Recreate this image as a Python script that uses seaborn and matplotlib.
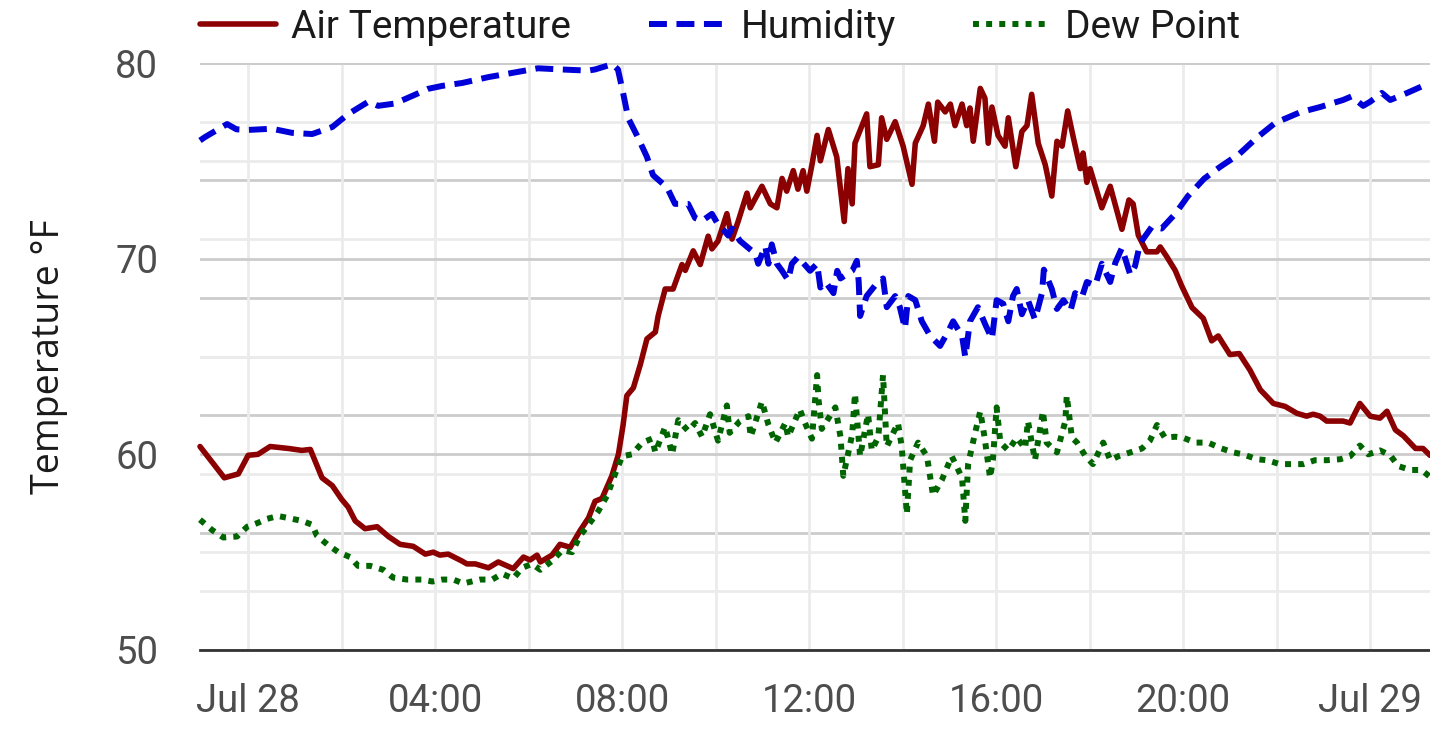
import pandas as pd
import seaborn as sns
import matplotlib.pyplot as plt
import matplotlib.dates as mdates
from matplotlib.ticker import MultipleLocator, FixedLocator, FuncFormatter

# hours after midnight of Jul 28
temp_hours = [-1.03, -0.51, -0.21, 0.00, 0.21, 0.47, 0.86, 1.15, 1.33, 1.58,
              1.80, 2.00, 2.14, 2.29, 2.50, 2.76, 3.00, 3.25, 3.53, 3.79,
              3.96, 4.10, 4.28, 4.57, 4.68, 4.86, 5.14, 5.35, 5.67, 5.89,
              6.03, 6.18, 6.25, 6.50, 6.67, 6.89, 7.10, 7.28, 7.42, 7.57,
              7.78, 7.92, 8.02, 8.10, 8.24, 8.39, 8.53, 8.71, 8.77, 8.92,
              9.09, 9.28, 9.35, 9.52, 9.67, 9.84, 9.92, 10.05, 10.24, 10.35,
              10.48, 10.67, 10.74, 10.99, 11.17, 11.31, 11.42, 11.52, 11.66, 11.76,
              11.87, 11.95, 12.06, 12.17, 12.24, 12.41, 12.59, 12.75, 12.83, 12.92,
              12.98, 13.23, 13.30, 13.48, 13.55, 13.66, 13.84, 14.01, 14.20, 14.27,
              14.44, 14.55, 14.68, 14.75, 14.91, 15.02, 15.12, 15.27, 15.37, 15.44,
              15.51, 15.66, 15.76, 15.83, 15.91, 16.04, 16.19, 16.26, 16.42, 16.55,
              16.66, 16.76, 16.90, 17.05, 17.19, 17.30, 17.41, 17.53, 17.65, 17.80,
              17.86, 17.94, 18.01, 18.26, 18.44, 18.69, 18.84, 18.93, 19.04, 19.22,
              19.44, 19.51, 19.65, 19.83, 19.97, 20.19, 20.43, 20.61, 20.75, 21.00,
              21.20, 21.43, 21.65, 21.93, 22.18, 22.43, 22.64, 22.78, 22.93, 23.07,
              23.42, 23.57, 23.78, 24.00, 24.21, 24.36, 24.54, 24.71, 24.97, 25.13,
              25.28]
temp_values = [60.4, 58.8, 59.0, 59.95, 60.0, 60.4, 60.3, 60.2, 60.25, 58.8,
               58.4, 57.7, 57.3, 56.6, 56.2, 56.3, 55.8, 55.4, 55.3, 54.9,
               55.0, 54.85, 54.9, 54.55, 54.4, 54.4, 54.2, 54.5, 54.16, 54.75,
               54.6, 54.85, 54.5, 54.85, 55.4, 55.25, 56.1, 56.75, 57.6, 57.75,
               58.9, 60.0, 61.5, 63.0, 63.4, 64.6, 65.9, 66.25, 67.07, 68.45,
               68.45, 69.7, 69.4, 70.4, 69.7, 71.15, 70.5, 70.9, 72.3, 71.0,
               71.9, 73.35, 72.6, 73.7, 72.8, 72.6, 74.1, 73.45, 74.5, 73.55,
               74.5, 73.45, 74.8, 76.3, 75.0, 76.6, 75.2, 71.9, 74.6, 72.8,
               75.9, 77.4, 74.7, 74.8, 77.2, 76.1, 77.0, 75.75, 73.8, 75.9,
               76.8, 77.9, 76.0, 78.0, 77.5, 77.9, 76.8, 77.9, 76.8, 77.7,
               76.0, 78.7, 78.2, 75.9, 77.75, 76.3, 75.75, 77.2, 74.7, 76.5,
               76.8, 78.4, 75.9, 74.8, 73.2, 76.0, 75.75, 77.55, 76.2, 74.6,
               75.4, 73.9, 74.6, 72.6, 73.7, 71.5, 73.0, 72.8, 71.2, 70.35,
               70.35, 70.6, 70.1, 69.4, 68.6, 67.5, 66.95, 65.8, 66.05, 65.1,
               65.15, 64.3, 63.3, 62.6, 62.45, 62.1, 61.95, 62.05, 61.95, 61.7,
               61.7, 61.6, 62.6, 61.95, 61.85, 62.2, 61.25, 60.95, 60.3, 60.3,
               59.95]

hum_hours = [-1.03, -0.92, -0.45, -0.25, 0.00, 0.51, 0.94, 1.37, 1.80, 2.14,
             2.57, 2.78, 3.14, 3.57, 3.85, 4.15, 4.58, 5.14, 5.71, 6.20,
             6.70, 7.27, 7.42, 7.79, 7.91, 8.02, 8.13, 8.32, 8.53, 8.66,
             8.96, 9.13, 9.41, 9.56, 9.71, 9.92, 10.05, 10.14, 10.27, 10.35,
             10.52, 10.85, 10.91, 11.06, 11.13, 11.20, 11.31, 11.42, 11.55, 11.63,
             11.76, 12.02, 12.17, 12.24, 12.35, 12.52, 12.60, 12.67, 12.92, 13.02,
             13.06, 13.09, 13.23, 13.41, 13.58, 13.66, 13.84, 13.94, 14.05, 14.12,
             14.27, 14.41, 14.59, 14.80, 14.97, 15.08, 15.27, 15.34, 15.44, 15.61,
             15.77, 15.91, 16.01, 16.15, 16.26, 16.36, 16.44, 16.55, 16.68, 16.83,
             16.98, 17.02, 17.19, 17.30, 17.44, 17.59, 17.69, 17.83, 17.94, 18.12,
             18.26, 18.44, 18.55, 18.69, 18.87, 18.97, 19.08, 19.33, 19.54, 19.83,
             20.10, 20.45, 20.79, 21.20, 21.58, 21.97, 22.50, 22.93, 23.42, 23.60,
             23.85, 24.00, 24.25, 24.43, 24.79, 25.13, 25.28]
hum_values = [86.8, 87.4, 89.6, 88.7, 88.6, 88.8, 88.1, 87.9, 89.1, 91.3,
              93.4, 92.7, 93.1, 94.6, 95.6, 96.1, 96.6, 97.6, 98.4, 99.1,
              98.9, 98.7, 98.9, 99.8, 98.9, 94.9, 90.6, 87.6, 84.0, 80.9,
              78.8, 76.0, 76.0, 73.6, 73.1, 74.3, 72.5, 71.8, 70.6, 71.8,
              69.7, 67.5, 65.8, 68.8, 65.8, 69.1, 65.8, 64.6, 63.0, 65.8,
              66.95, 64.6, 65.8, 61.75, 62.7, 60.8, 64.6, 63.3, 64.6, 66.3,
              62.7, 56.9, 60.3, 62.1, 63.3, 58.4, 60.3, 58.4, 54.75, 60.3,
              59.6, 56.0, 53.5, 51.8, 54.2, 56.0, 53.5, 49.9, 56.0, 58.4,
              55.4, 53.0, 59.6, 59.0, 56.0, 60.3, 61.5, 57.2, 59.6, 56.3,
              60.8, 64.8, 61.5, 58.1, 59.6, 57.8, 60.8, 60.0, 62.7, 62.1,
              65.8, 62.7, 66.0, 68.5, 63.9, 65.4, 69.3, 72.1, 71.8, 74.3,
              77.3, 80.3, 82.3, 84.5, 87.3, 89.8, 91.6, 92.5, 93.7, 94.3,
              92.7, 93.4, 94.9, 93.7, 94.9, 96.1, 96.4]

dew_hours = [-1.03, -0.77, -0.53, -0.24, -0.02, 0.21, 0.40, 0.64, 0.94, 1.15,
             1.37, 1.47, 1.69, 1.93, 2.18, 2.35, 2.61, 2.89, 3.10, 3.40,
             3.72, 3.94, 4.15, 4.39, 4.60, 4.96, 5.22, 5.43, 5.67, 5.86,
             6.07, 6.25, 6.50, 6.72, 6.93, 7.10, 7.25, 7.49, 7.68, 7.85,
             8.00, 8.21, 8.43, 8.64, 8.71, 8.92, 9.07, 9.20, 9.41, 9.56,
             9.71, 9.88, 10.05, 10.24, 10.30, 10.52, 10.70, 10.75, 10.99, 11.13,
             11.28, 11.49, 11.55, 11.80, 11.91, 12.06, 12.17, 12.20, 12.27, 12.56,
             12.67, 12.73, 12.92, 12.98, 13.09, 13.26, 13.34, 13.48, 13.58, 13.66,
             13.90, 13.98, 14.09, 14.16, 14.33, 14.52, 14.65, 14.84, 15.05, 15.27,
             15.34, 15.40, 15.55, 15.66, 15.75, 15.87, 15.93, 16.01, 16.09, 16.26,
             16.44, 16.62, 16.68, 16.83, 17.00, 17.08, 17.30, 17.48, 17.51, 17.62,
             17.73, 17.90, 18.07, 18.29, 18.44, 18.61, 18.87, 19.12, 19.29, 19.44,
             19.61, 19.83, 20.00, 20.26, 20.53, 20.82, 21.07, 21.28, 21.58, 21.79,
             22.07, 22.32, 22.57, 22.82, 23.07, 23.36, 23.57, 23.78, 23.96, 24.21,
             24.43, 24.60, 24.86, 25.10, 25.28]
dew_values = [56.66, 56.13, 55.75, 55.8, 56.3, 56.5, 56.7, 56.85, 56.7, 56.6,
              56.4, 55.84, 55.4, 55.0, 54.75, 54.3, 54.3, 54.1, 53.7, 53.6,
              53.6, 53.5, 53.6, 53.6, 53.4, 53.6, 53.6, 53.9, 53.65, 54.2,
              54.4, 54.1, 54.55, 55.1, 55.0, 55.85, 56.3, 57.1, 57.9, 59.0,
              59.9, 60.0, 60.6, 60.8, 60.1, 61.4, 60.0, 61.75, 61.2, 61.6,
              60.9, 62.05, 60.7, 62.5, 61.1, 61.7, 61.95, 60.9, 62.7, 61.5,
              60.6, 61.6, 60.9, 62.3, 61.6, 60.8, 64.05, 62.8, 61.3, 62.4,
              60.9, 58.9, 61.0, 63.1, 59.9, 62.05, 60.2, 60.9, 64.05, 60.4,
              61.6, 60.4, 56.95, 59.7, 60.6, 59.9, 57.9, 58.7, 59.9, 58.8,
              56.6, 59.5, 61.1, 62.2, 60.9, 58.8, 59.7, 62.4, 60.6, 60.2,
              60.85, 60.3, 61.7, 59.7, 62.2, 60.6, 60.1, 61.7, 63.0, 60.85,
              60.6, 59.95, 59.5, 60.6, 59.7, 59.9, 60.1, 60.3, 60.7, 61.5,
              60.85, 60.9, 60.85, 60.6, 60.6, 60.3, 60.1, 60.0, 59.75, 59.7,
              59.5, 59.5, 59.5, 59.7, 59.7, 59.75, 59.9, 60.45, 60.0, 60.2,
              59.95, 59.4, 59.2, 59.2, 58.85]

temp_ticks = [50, 60, 70, 80]

day_start = pd.Timestamp("2023-07-28")
x_from, x_to = -1.03, 25.28


def to_frame(hours, values):
    return pd.DataFrame({"time": day_start + pd.to_timedelta(hours, unit="h"),
                         "value": values})


def time_label(value, pos):
    t = mdates.num2date(value)
    if t.hour == 0:
        return f"{t:%b} {t.day}"
    return f"{t:%H:%M}"


temp_df = to_frame(temp_hours, temp_values)
hum_df = to_frame(hum_hours, hum_values)
dew_df = to_frame(dew_hours, dew_values)

sns.set_theme(style="white")
plt.rcParams["font.family"] = ["Roboto", "DejaVu Sans"]

major_grid = "#cccccc"
minor_grid = "#ebebeb"
text_grey = "#4d4d4d"

fig = plt.figure(figsize=(14.3, 7.31), dpi=100)
rect = [200 / 1430, 81 / 731, 1230 / 1430, 587 / 731]

ax = fig.add_axes(rect, zorder=1)
ax.patch.set_visible(False)

# humidity scale grid sits behind everything
grid_ax = fig.add_axes(rect, zorder=0, sharex=ax)
grid_ax.set_ylim(0, 100)
grid_ax.yaxis.set_major_locator(MultipleLocator(20))
grid_ax.yaxis.set_minor_locator(MultipleLocator(10))
grid_ax.grid(axis="y", which="major", color=major_grid, linewidth=2)
grid_ax.grid(axis="y", which="minor", color=minor_grid, linewidth=2)
grid_ax.grid(axis="x", visible=False)
grid_ax.tick_params(which="both", length=0, labelbottom=False, labelleft=False)
for s in grid_ax.spines.values():
    s.set_visible(False)

sns.lineplot(data=temp_df, x="time", y="value", ax=ax, color="#8b0000",
             linewidth=4.0, label="Air Temperature", legend=False, clip_on=False)
sns.lineplot(data=dew_df, x="time", y="value", ax=ax, color="#006400",
             linewidth=4.3, linestyle=(0, (1.0, 1.2)), label="Dew Point",
             legend=False, clip_on=False)

hum_ax = ax.twinx()
hum_ax.set_zorder(2)
sns.lineplot(data=hum_df, x="time", y="value", ax=hum_ax, color="#0000d8",
             linewidth=4.3, linestyle=(0, (3.0, 1.6)), label="Humidity",
             legend=False, clip_on=False)
hum_ax.set_ylim(0, 100)
hum_ax.set_ylabel("")
hum_ax.tick_params(which="both", length=0, labelright=False)
for s in hum_ax.spines.values():
    s.set_visible(False)

ax.set_xlim(day_start + pd.Timedelta(hours=x_from), day_start + pd.Timedelta(hours=x_to))
ax.set_ylim(50, 80)
ax.yaxis.set_major_locator(FixedLocator(temp_ticks))
ax.yaxis.set_minor_locator(MultipleLocator(5))
ax.xaxis.set_major_locator(mdates.HourLocator(byhour=range(0, 24, 4)))
ax.xaxis.set_minor_locator(mdates.HourLocator(byhour=range(0, 24, 2)))
ax.xaxis.set_major_formatter(FuncFormatter(time_label))

ax.grid(axis="y", which="major", color=major_grid, linewidth=2)
ax.grid(axis="y", which="minor", color=minor_grid, linewidth=2)
ax.grid(axis="x", which="both", color=minor_grid, linewidth=2)
ax.set_axisbelow(True)

ax.tick_params(which="both", length=0, labelsize=27.5, labelcolor=text_grey)
ax.tick_params(axis="x", pad=24)
ax.tick_params(axis="y", pad=30)
for name, s in ax.spines.items():
    s.set_visible(name == "bottom")
ax.spines["bottom"].set_color("#333333")
ax.spines["bottom"].set_linewidth(2)

ax.set_xlabel("")
ax.set_ylabel("Temperature °F", fontsize=27, family=["Open Sans", "DejaVu Sans"],
              color="#1a1a1a")
ax.yaxis.set_label_coords(-0.1073, 0.5)

lines = ax.get_lines() + hum_ax.get_lines()
order = ["Air Temperature", "Humidity", "Dew Point"]
handles = [next(l for l in lines if l.get_label() == name) for name in order]
fig.legend(handles, order, loc="upper left", bbox_to_anchor=(200 / 1430, 0.988),
           ncol=3, frameon=False, fontsize=28, handlelength=1.95,
           handletextpad=0.4, columnspacing=2.0, borderpad=0, borderaxespad=0,
           labelcolor="#1a1a1a")

fig.savefig("out.png", dpi=100)
